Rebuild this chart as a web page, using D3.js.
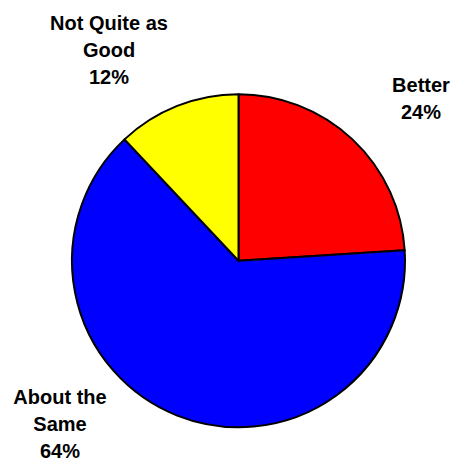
<!DOCTYPE html>
<html lang='en'>
<head>
	<meta charset='UTF-8'/>
	<title>Pie chart</title>
	<script src='https://cdnjs.cloudflare.com/ajax/libs/d3/7.8.5/d3.min.js'></script>
	<style>
		body {margin: 0; background: #FFF;}
		svg {display: block;}
		.label {font-family: 'Liberation Sans', Arial, sans-serif; font-weight: bold; font-size: 20px; fill: #000;}
	</style>
</head>
<body>
	<div class='graph'></div>
	<script>
		// data
		const categories = ['Better', 'About the Same', 'Not Quite as Good'];
		const values = [24, 64, 12];
		const labelLines = [['Better', '24%'], ['About the', 'Same', '64%'], ['Not Quite as', 'Good', '12%']];
		const colors = ['#FF0000', '#0000FF', '#FFFF00'];

		const width = 454, height = 462;
		const cx = 238.5, cy = 260.75, radius = 166.5;

		// where each label block is centred (x) and its first baseline (y)
		const labelPos = [[421, 92], [60, 404], [109, 30]];
		const lineH = 27.2;

		const svg = d3.select('.graph')
			.append('svg')
			.attr('width', width)
			.attr('height', height);

		const pie = d3.pie().sort(null).value(d => d)(values);
		const arc = d3.arc().innerRadius(0).outerRadius(radius);
		const color = d3.scaleOrdinal().domain(categories).range(colors);

		svg.append('g')
			.attr('transform', 'translate(' + cx + ',' + cy + ')')
			.selectAll('path')
			.data(pie)
			.enter()
			.append('path')
			.attr('d', arc)
			.style('fill', (d, i) => color(categories[i]))
			.style('stroke', '#000')
			.style('stroke-width', 2)
			.style('stroke-linejoin', 'round');

		// labels
		labelLines.forEach((lines, i) => {
			const t = svg.append('text')
				.attr('class', 'label')
				.attr('text-anchor', 'middle');
			lines.forEach((s, j) => {
				t.append('tspan')
					.attr('x', labelPos[i][0])
					.attr('y', labelPos[i][1] + j * lineH)
					.text(s);
			});
		});
	</script>
</body>
</html>
